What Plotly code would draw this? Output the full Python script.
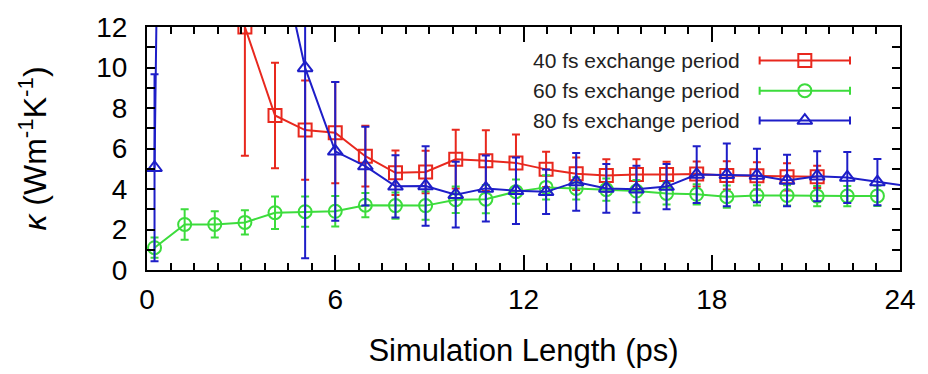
import plotly.graph_objects as go

# ---- data ----
sim_length_ps = [0.24, 1.20, 2.16, 3.12, 4.08, 5.04, 6.00, 6.96, 7.92, 8.88,
                 9.84, 10.80, 11.76, 12.72, 13.68, 14.64, 15.60, 16.56, 17.52,
                 18.48, 19.44, 20.40, 21.36, 22.32, 23.28, 24.24]

k_40fs = [None, None, None, 12.0, 7.63, 6.91, 6.78, 5.62, 4.80, 4.84,
          5.47, 5.40, 5.29, 4.97, 4.75, 4.67, 4.72, 4.72, 4.74, 4.67,
          4.65, 4.60, 4.60]
err_40fs = [None, None, None, 6.36, 2.60, 2.45, 2.50, 1.50, 1.10, 1.05,
            1.45, 1.50, 1.40, 0.87, 0.80, 0.80, 0.75, 0.63, 0.62, 0.70,
            0.67, 0.67, 0.55]

k_60fs = [1.10, 2.25, 2.25, 2.35, 2.83, 2.88, 2.90, 3.20, 3.18, 3.18,
          3.47, 3.50, 3.87, 4.08, 4.03, 3.97, 3.90, 3.78, 3.74, 3.62,
          3.68, 3.68, 3.65, 3.65, 3.66]
err_60fs = [0.50, 0.75, 0.65, 0.60, 0.80, 0.75, 0.75, 0.60, 0.65, 0.70,
            0.65, 0.70, 0.60, 0.60, 0.55, 0.55, 0.55, 0.55, 0.50, 0.55,
            0.50, 0.50, 0.50, 0.50, 0.50]

k_80fs = [5.05, 120.0, 60.0, 30.0, 16.7, 9.98, 5.86, 5.13, 4.13, 4.15,
          3.72, 4.03, 3.91, 3.86, 4.35, 4.03, 3.99, 4.12, 4.71, 4.70,
          4.67, 4.42, 4.63, 4.57, 4.34, 4.15]
err_80fs = [4.62, 0, 0, 0, 0, 9.40, 3.43, 1.94, 1.54, 1.96,
            1.62, 1.63, 1.64, 1.10, 1.43, 1.20, 1.16, 1.12, 1.40, 1.55,
            1.32, 1.27, 1.24, 1.26, 1.14, 1.10]

series_names = ["40 fs exchange period", "60 fs exchange period", "80 fs exchange period"]
series_colors = ["#e8281e", "#3cdc3c", "#1e1ec8"]
series_symbols = ["square-open", "circle-open", "triangle-up-open"]

x_ticks = [0, 6, 12, 18, 24]
y_ticks = [0, 2, 4, 6, 8, 10, 12]

FONT = "Liberation Sans, Arial, Helvetica, sans-serif"

fig = go.Figure()

all_k = [k_40fs, k_60fs, k_80fs]
all_err = [err_40fs, err_60fs, err_80fs]
for name, kv, ev, col, sym in zip(series_names, all_k, all_err, series_colors, series_symbols):
    fig.add_trace(go.Scatter(
        x=sim_length_ps[:len(kv)], y=kv,
        mode="lines+markers",
        name=name,
        line=dict(color=col, width=2),
        marker=dict(symbol=sym, size=13, color=col, line=dict(width=2, color=col)),
        error_y=dict(type="data", array=ev, visible=True, color=col, thickness=2, width=4),
        showlegend=False,
    ))

# ---- legend drawn inside the plot (text, then sample line with caps) ----
legend_rows = [0.862, 0.738, 0.615]
for name, col, sym, ry in zip(series_names, series_colors, series_symbols, legend_rows):
    fig.add_trace(go.Scatter(
        x=[0.8736], y=[ry], xaxis="x2", yaxis="y2",
        mode="markers",
        marker=dict(symbol=sym, size=13, color=col, line=dict(width=2, color=col)),
        error_x=dict(type="constant", value=0.06, color=col, thickness=2, width=4),
        showlegend=False, hoverinfo="skip",
    ))
    fig.add_annotation(
        x=0.790, y=ry, xref="paper", yref="paper",
        text=name, showarrow=False, xanchor="right", yanchor="middle",
        font=dict(family=FONT, size=21, color="#222222"),
    )

fig.update_layout(
    width=928, height=374,
    margin=dict(l=147, r=24, t=21, b=103),
    paper_bgcolor="white", plot_bgcolor="white",
    font=dict(family=FONT, color="black"),
    xaxis=dict(
        range=[0, 24], tickvals=x_ticks, ticktext=[str(v) for v in x_ticks],
        ticks="inside", ticklen=15, tickwidth=1.5, tickcolor="black",
        minor=dict(dtick=0.75, ticks="inside", ticklen=7, tickwidth=1.5, tickcolor="black"),
        showline=True, linecolor="black", linewidth=2, mirror="ticks",
        showgrid=False, zeroline=False, ticklabelstandoff=3,
        tickfont=dict(family=FONT, size=28, color="black"),
        title=dict(text="Simulation Length (ps)", font=dict(family=FONT, size=31, color="black"), standoff=26),
    ),
    yaxis=dict(
        range=[0, 12], tickvals=y_ticks, ticktext=[str(v) for v in y_ticks],
        ticks="inside", ticklen=8, tickwidth=1.5, tickcolor="black",
        minor=dict(dtick=1, ticks="inside", ticklen=8, tickwidth=1.5, tickcolor="black"),
        showline=True, linecolor="black", linewidth=2, mirror="ticks",
        showgrid=False, zeroline=False, ticklabelstandoff=12,
        tickfont=dict(family=FONT, size=28, color="black"),
        title=dict(text="<i>κ</i> (Wm<sup>-1</sup>K<sup>-1</sup>)", font=dict(family=FONT, size=32, color="black"), standoff=40),
    ),
    xaxis2=dict(overlaying="x", range=[0, 1], visible=False),
    yaxis2=dict(overlaying="y", range=[0, 1], visible=False),
)

fig.write_html("out.html")
